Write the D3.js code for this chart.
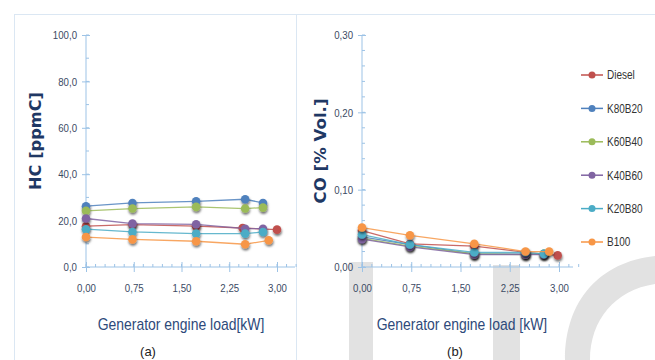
<!DOCTYPE html>
<html>
<head>
<meta charset="utf-8">
<script src="https://cdn.jsdelivr.net/npm/d3@7"></script>
<style>
  body { margin: 0; background: #fff; }
  svg { display: block; }
  .tick text { font-family: 'Liberation Sans', Arial, sans-serif; font-size: 11.5px; fill: #3b4a63; }
</style>
</head>
<body>
<svg id="chart" width="655" height="360"></svg>
<script>
// Series names and colours (legend order)
const fuels = ["Diesel", "K80B20", "K60B40", "K40B60", "K20B80", "B100"];
const fuelColors = ["#c0504d", "#4f81bd", "#9bbb59", "#8064a2", "#4bacc6", "#f79646"];

// Engine loads [kW] per series (panel a, panel b)
const hcLoadDiesel = [0, 0.73, 1.73, 2.46, 3.0];
const hcLoadBlend = [0, 0.73, 1.73, 2.5, 2.78];
const hcLoadB100 = [0, 0.73, 1.73, 2.5, 2.87];
const coLoadDiesel = [0, 0.73, 1.71, 2.49, 2.98];
const coLoadBlend = [0, 0.73, 1.71, 2.49, 2.77];
const coLoadB100 = [0, 0.73, 1.71, 2.49, 2.85];

// HC [ppmC]
const hcDiesel = [17.6, 18.3, 17.6, 16.8, 16.1];
const hcK80B20 = [26.2, 27.6, 28.3, 29.2, 27.6];
const hcK60B40 = [24.2, 25.2, 25.9, 25.2, 25.6];
const hcK40B60 = [20.9, 18.7, 18.4, 16.5, 16.5];
const hcK20B80 = [16.3, 15.1, 14.4, 14.4, 15.1];
const hcB100 = [12.9, 11.9, 11.1, 9.8, 11.5];

// CO [% Vol.]
const coDiesel = [0.047, 0.030, 0.027, 0.019, 0.015];
const coK80B20 = [0.039, 0.029, 0.017, 0.017, 0.017];
const coK60B40 = [0.037, 0.027, 0.017, 0.016, 0.017];
const coK40B60 = [0.036, 0.026, 0.016, 0.016, 0.016];
const coK20B80 = [0.042, 0.029, 0.019, 0.019, 0.017];
const coB100 = [0.051, 0.041, 0.030, 0.020, 0.020];

// Tick labels
const xTicks = [0, 0.75, 1.5, 2.25, 3];
const hcTicks = [0, 20, 40, 60, 80, 100];
const coTicks = [0, 0.1, 0.2, 0.3];

const hcSeries = [
  [hcLoadDiesel, hcDiesel], [hcLoadBlend, hcK80B20], [hcLoadBlend, hcK60B40],
  [hcLoadBlend, hcK40B60], [hcLoadBlend, hcK20B80], [hcLoadB100, hcB100]
];
const coSeries = [
  [coLoadDiesel, coDiesel], [coLoadBlend, coK80B20], [coLoadBlend, coK60B40],
  [coLoadBlend, coK40B60], [coLoadBlend, coK20B80], [coLoadB100, coB100]
];

const svg = d3.select("#chart");
const axisColor = "#9dc3e6";
const titleColor = "#1f3864";
const labelFont = "'Liberation Sans', Arial, sans-serif";

// squeeze text horizontally, the original uses a narrow font
function condense(sel, factor) {
  sel.each(function() {
    let w = this.getComputedTextLength();
    d3.select(this).attr("textLength", w * factor).attr("lengthAdjust", "spacingAndGlyphs");
  });
}

// shadow under markers
const defs = svg.append("defs");
defs.append("filter").attr("id", "shadow")
  .attr("x", "-50%").attr("y", "-50%").attr("width", "200%").attr("height", "200%")
  .append("feDropShadow")
  .attr("dx", 0.5).attr("dy", 2).attr("stdDeviation", 1.3)
  .attr("flood-color", "#000").attr("flood-opacity", 0.55);

// watermark behind everything
let wm = svg.append("g").attr("fill", "#e2e2e2");
wm.append("rect").attr("x", 349).attr("y", 262).attr("width", 24).attr("height", 98);
wm.append("rect").attr("x", 493).attr("y", 265).attr("width", 27).attr("height", 95);
wm.append("path")
  .attr("d", "M565,360 C565,300 600,262 655,256 L655,284 C615,290 590,320 590,360 Z");

// frame lines
let frame = svg.append("g").attr("stroke", "#dbe7f3").attr("fill", "none");
frame.append("line").attr("x1", 14).attr("x2", 655).attr("y1", 14.5).attr("y2", 14.5);
frame.append("line").attr("x1", 14.5).attr("x2", 14.5).attr("y1", 14).attr("y2", 360);
frame.append("line").attr("x1", 296.5).attr("x2", 296.5).attr("y1", 14).attr("y2", 360);

function drawPanel(opts) {
  let g = svg.append("g");
  let x = d3.scaleLinear().domain([0, 3]).range([opts.x0, opts.x1]);
  let y = d3.scaleLinear().domain([0, opts.yMax]).range([267, 35]);

  // y axis with minor ticks
  let yMinor = d3.range(0, opts.yMax + 1e-9, opts.yMinor);
  g.append("g").selectAll("line").data(yMinor).join("line")
    .attr("x1", opts.x0).attr("x2", opts.x0 + 3)
    .attr("y1", d => y(d)).attr("y2", d => y(d))
    .attr("stroke", axisColor);
  let yAxis = g.append("g")
    .attr("transform", `translate(${opts.x0},0)`)
    .call(d3.axisLeft(y).tickValues(opts.yTicks).tickSize(4).tickPadding(5)
      .tickFormat(d => d3.format(opts.yFmt)(d).replace(".", ",")));
  yAxis.select(".domain").attr("stroke", axisColor).attr("d", `M0,${y(opts.yMax)}V${y(0)}`);
  yAxis.selectAll(".tick line").attr("stroke", axisColor).attr("x2", 4).attr("x1", -4);
  condense(yAxis.selectAll(".tick text"), 0.84);

  // x axis with minor ticks
  let xMinor = d3.range(0, 3.3 + 1e-9, 0.15);
  g.append("g").selectAll("line").data(xMinor).join("line")
    .attr("x1", d => x(d)).attr("x2", d => x(d))
    .attr("y1", y(0)).attr("y2", y(0) - 3)
    .attr("stroke", axisColor);
  let xAxis = g.append("g")
    .attr("transform", `translate(0,${y(0)})`)
    .call(d3.axisBottom(x).tickValues(xTicks).tickSize(5).tickPadding(12)
      .tickFormat(d => d3.format(".2f")(d).replace(".", ",")));
  xAxis.select(".domain").attr("stroke", axisColor).attr("d", `M${opts.x0},0H${opts.xEnd}`);
  xAxis.selectAll(".tick line").attr("stroke", axisColor).attr("y1", -5).attr("y2", 5);
  condense(xAxis.selectAll(".tick text"), 0.84);

  // series
  let line = d3.line().x(d => x(d[0])).y(d => y(d[1]));
  opts.series.forEach((s, i) => {
    let pts = s[0].map((v, j) => [v, s[1][j]]);
    g.append("path").datum(pts)
      .attr("d", line).attr("fill", "none")
      .attr("stroke", fuelColors[i]).attr("stroke-width", 1.3)
      .attr("stroke-opacity", 0.85);
    g.append("g").selectAll("circle").data(pts).join("circle")
      .attr("cx", d => x(d[0])).attr("cy", d => y(d[1])).attr("r", 4.3)
      .attr("fill", fuelColors[i]).attr("filter", "url(#shadow)");
  });

  // titles
  g.append("text")
    .attr("transform", `translate(${opts.yTitleX},${opts.yTitleY}) rotate(-90)`)
    .attr("text-anchor", "middle")
    .attr("font-family", "'DejaVu Sans', sans-serif").attr("font-weight", "bold")
    .attr("font-size", 15).attr("fill", titleColor)
    .attr("textLength", opts.yTitleLen).attr("lengthAdjust", "spacingAndGlyphs")
    .text(opts.yTitle);
  let xt = g.append("text")
    .attr("x", opts.xTitleX).attr("y", 330).attr("text-anchor", "middle")
    .attr("font-family", labelFont).attr("font-size", 17).attr("fill", "#2e4a7a")
    .text(opts.xTitle);
  condense(xt, 0.82);
  g.append("text")
    .attr("x", opts.capX).attr("y", 356).attr("text-anchor", "middle")
    .attr("font-family", labelFont).attr("font-size", 13).attr("fill", "#222")
    .text(opts.caption);
}

drawPanel({
  x0: 86, x1: 277, xEnd: 295, yMax: 100, yMinor: 10, yTicks: hcTicks, yFmt: ".1f",
  series: hcSeries, yTitle: "HC [ppmC]", yTitleX: 41, yTitleY: 141, yTitleLen: 98,
  xTitle: "Generator engine load[kW]", xTitleX: 181, caption: "(a)", capX: 148
});
drawPanel({
  x0: 362, x1: 559, xEnd: 573, yMax: 0.3, yMinor: 0.02, yTicks: coTicks, yFmt: ".2f",
  series: coSeries, yTitle: "CO [% Vol.]", yTitleX: 326, yTitleY: 151, yTitleLen: 105,
  xTitle: "Generator engine load [kW]", xTitleX: 462, caption: "(b)", capX: 455
});

// legend
let legend = svg.append("g").attr("transform", "translate(581,75)");
fuels.forEach((f, i) => {
  let row = legend.append("g").attr("transform", `translate(0,${i * 33.4})`);
  row.append("line").attr("x1", 0).attr("x2", 22)
    .attr("stroke", fuelColors[i]).attr("stroke-width", 1.5);
  row.append("circle").attr("cx", 11).attr("r", 3.5).attr("fill", fuelColors[i]);
  let t = row.append("text").attr("x", 26).attr("dy", "0.35em")
    .attr("font-family", labelFont).attr("font-size", 12.5).attr("fill", "#333")
    .text(f);
  condense(t, 0.8);
});
</script>
</body>
</html>
